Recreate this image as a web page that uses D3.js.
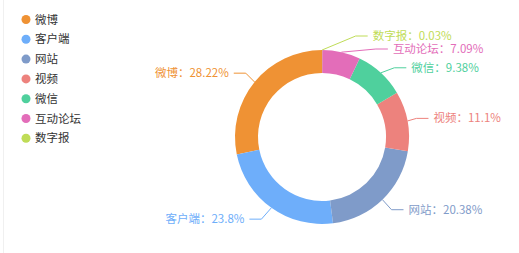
<!DOCTYPE html>
<html>
<head>
<meta charset="utf-8">
<script src="https://cdn.jsdelivr.net/npm/d3@7"></script>
<style>
  html, body { margin: 0; padding: 0; background: #fff; }
  svg { display: block; }
  text { font-family: "Noto Sans CJK SC", "Noto Sans", sans-serif; }
</style>
</head>
<body>
<svg id="chart" width="519" height="253"></svg>
<script>
// Channel share of coverage
const categories = ["微博", "客户端", "网站", "视频", "微信", "互动论坛", "数字报"];
const shares = [28.22, 23.8, 20.38, 11.1, 9.38, 7.09, 0.03];
const colors = ["#ef9234", "#6eaefa", "#7f9bc9", "#ed827d", "#4fd09d", "#e36db9", "#bfdc57"];

const W = 519, H = 253;
const cx = 322, cy = 137;
const rOuter = 87, rInner = 64;
const len1 = 14, len2 = 12, labelGap = 5, labelH = 13;

const svg = d3.select("#chart");

// faint frame edge on the left
svg.append("line")
  .attr("x1", 3.5).attr("x2", 3.5).attr("y1", 0).attr("y2", H)
  .attr("stroke", "#f0f0f0").attr("stroke-width", 1);

const data = categories.map((name, i) => ({ name, value: shares[i], color: colors[i] }));

// slices run counter-clockwise from twelve o'clock
const pie = d3.pie().value(d => d.value).sort(null)
  .startAngle(0).endAngle(-2 * Math.PI);
const arcs = pie(data);

const arc = d3.arc().innerRadius(rInner).outerRadius(rOuter);

const g = svg.append("g").attr("transform", `translate(${cx},${cy})`);
g.selectAll("path.slice")
  .data(arcs)
  .join("path")
  .attr("class", "slice")
  .attr("d", arc)
  .attr("fill", d => d.data.color);

// ---- outer labels with leader lines ----
const labels = arcs.map(a => {
  const mid = (a.startAngle + a.endAngle) / 2;
  const dx = Math.sin(mid), dy = -Math.cos(mid);
  const dir = dx < 0 ? -1 : 1;
  const x1 = cx + rOuter * dx, y1 = cy + rOuter * dy;
  const x2 = cx + (rOuter + len1) * dx, y2 = cy + (rOuter + len1) * dy;
  const x3 = x2 + dir * len2;
  return {
    d: a.data, dir,
    p1: [x1, y1], x: x3 + dir * labelGap, y: y2,
    text: `${a.data.name}：${a.data.value}%`
  };
});

// push overlapping labels apart on one side, then slide them along the curve
function layoutSide(list, dir) {
  list.sort((a, b) => a.y - b.y);
  const n = list.length;
  function shiftUp(end, delta) {
    for (let j = end; j >= 0; j--) {
      list[j].y -= delta;
      if (j > 0 && list[j].y > list[j - 1].y + labelH) break;
    }
  }
  function shiftDown(start, end, delta) {
    for (let j = start; j < end; j++) {
      list[j].y += delta;
      if (j > start && j + 1 < end && list[j + 1].y > list[j].y + labelH) {
        shiftUp(j, delta / 2);
        return;
      }
    }
    shiftUp(end - 1, delta / 2);
  }
  let lastY = 0;
  for (let i = 0; i < n; i++) {
    const delta = list[i].y - lastY;
    if (delta < 0) shiftDown(i, n, -delta);
    lastY = list[i].y + labelH;
  }
  const R = rOuter + len1 + len2;
  function changeX(sub, isDown) {
    let last = isDown ? Number.MAX_VALUE : 0;
    sub.forEach(l => {
      const dY = Math.abs(l.y - cy);
      let dX = dY < rOuter + len1 ? Math.sqrt(R * R - dY * dY) : Math.abs(l.x - cx);
      if (isDown && dX >= last) dX = last - 10;
      if (!isDown && dX <= last) dX = last + 10;
      l.x = cx + dX * dir;
      last = dX;
    });
  }
  changeX(list.filter(l => l.y < cy), false);
  changeX(list.filter(l => l.y >= cy), true);
}
layoutSide(labels.filter(l => l.dir > 0), 1);
layoutSide(labels.filter(l => l.dir < 0), -1);

labels.forEach(l => {
  const x3 = l.x - l.dir * labelGap;
  const x2 = x3 - l.dir * len2;
  l.points = [l.p1, [x2, l.y], [x3, l.y]];
});

svg.append("g").selectAll("path.leader")
  .data(labels)
  .join("path")
  .attr("class", "leader")
  .attr("d", l => d3.line()(l.points))
  .attr("fill", "none")
  .attr("stroke", l => l.d.color)
  .attr("stroke-width", 1);

svg.append("g").selectAll("text.label")
  .data(labels)
  .join("text")
  .attr("class", "label")
  .attr("x", l => l.x)
  .attr("y", l => l.y)
  .attr("dy", "0.35em")
  .attr("text-anchor", l => l.dir > 0 ? "start" : "end")
  .attr("font-size", 11.5)
  .attr("fill", l => l.d.color)
  .text(l => l.text);

// ---- legend ----
const legend = svg.append("g").attr("transform", "translate(26,19.5)");
const item = legend.selectAll("g")
  .data(data)
  .join("g")
  .attr("transform", (d, i) => `translate(0,${i * 19.8})`);
item.append("circle").attr("r", 4.5).attr("fill", d => d.color);
item.append("text")
  .attr("x", 9)
  .attr("dy", "0.35em")
  .attr("font-size", 11.5)
  .attr("fill", "#333")
  .text(d => d.name);
</script>
</body>
</html>
